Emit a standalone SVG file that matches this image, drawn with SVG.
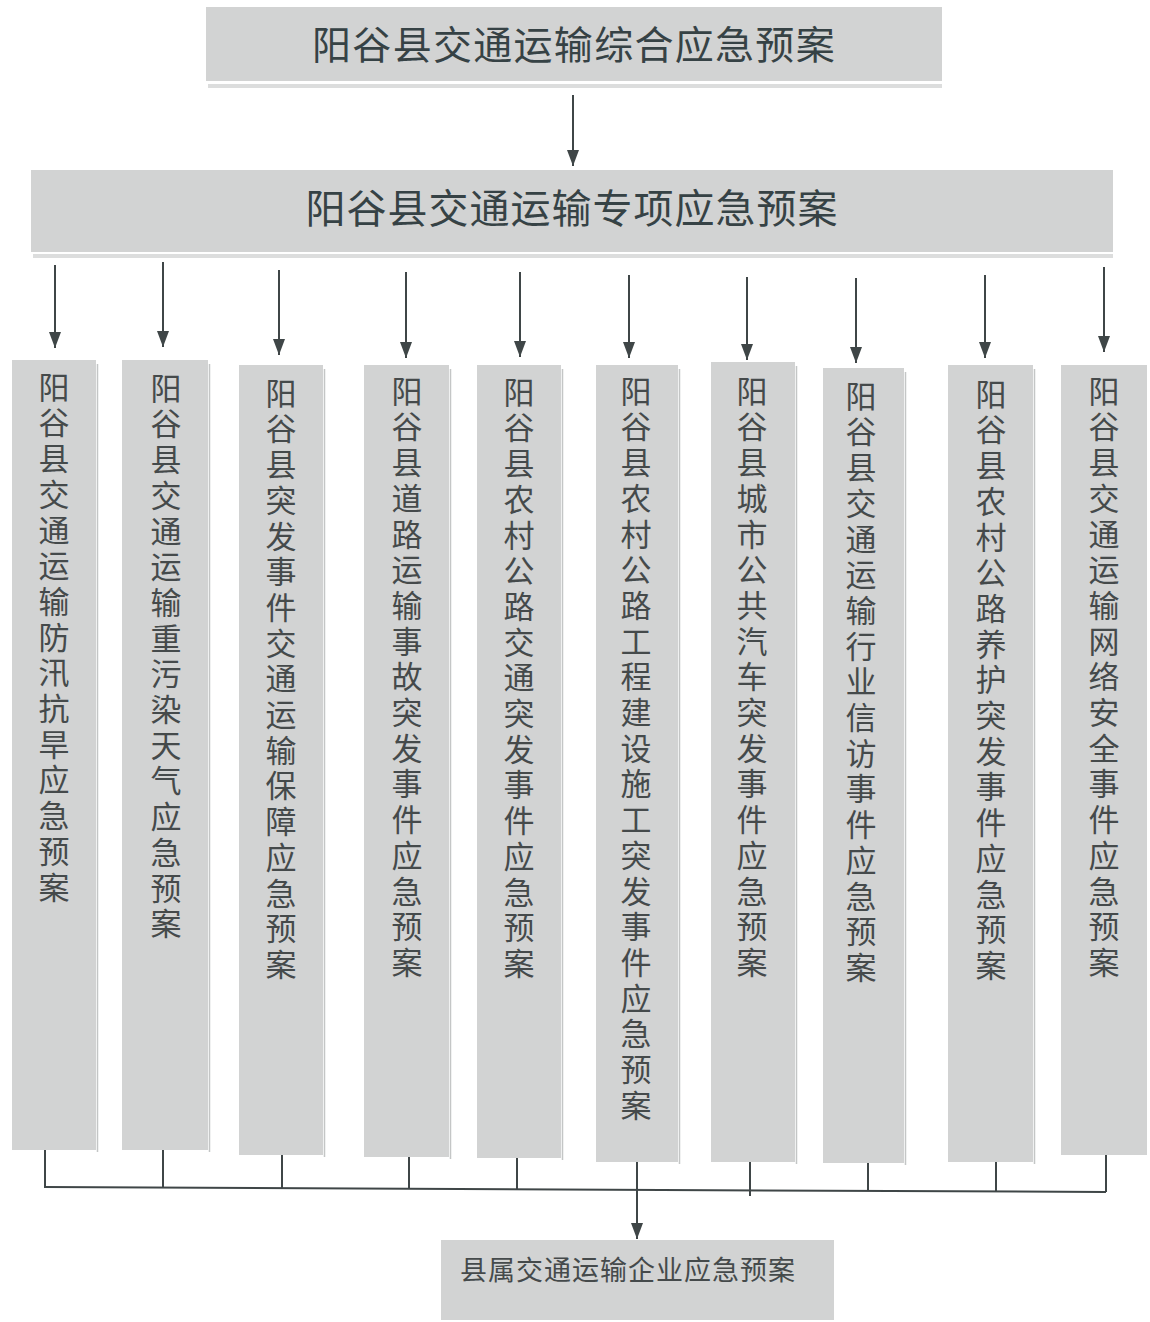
<svg xmlns="http://www.w3.org/2000/svg" width="1150" height="1322" viewBox="0 0 1150 1322">
<defs>
<style>
.box{fill:#d2d3d3;}
.shadow{fill:#dcdddd;}
.edge{stroke:#c4c6c6;stroke-width:1.5;fill:none;}
.title{font-family:"Noto Sans CJK SC","Noto Sans CJK JP",sans-serif;fill:#364245;text-anchor:middle;}
.vt{font-family:"Noto Sans CJK SC","Noto Sans CJK JP",sans-serif;font-size:31px;fill:#454a4b;writing-mode:vertical-rl;text-orientation:upright;letter-spacing:4.7px;}
.conn{stroke:#3f4647;stroke-width:2;fill:none;}
</style>
<marker id="ah2" markerUnits="userSpaceOnUse" markerWidth="16" markerHeight="12" refX="16" refY="6" orient="auto" viewBox="0 0 16 12">
<path d="M0,0 L16,6 L0,12 z" fill="#3f4647"/>
</marker>
</defs>
<rect width="1150" height="1322" fill="#ffffff"/>

<g id="node-general">
<rect class="box" x="206" y="7" width="736" height="74"/>
<rect class="shadow" x="208" y="84" width="734" height="4"/>
<text class="title" x="574" y="59" font-size="39" letter-spacing="1.3">阳谷县交通运输综合应急预案</text>
</g>

<g id="node-special">
<rect class="box" x="31" y="170" width="1082" height="82"/>
<rect class="shadow" x="33" y="254" width="1080" height="4"/>
<text class="title" x="572" y="223" font-size="40" letter-spacing="1">阳谷县交通运输专项应急预案</text>
</g>

<g id="node-c1">
<rect class="box" x="12" y="360" width="84" height="790"/>
<line class="edge" x1="97.5" y1="364" x2="97.5" y2="1152"/>
<text class="vt" x="54" y="371.5">阳谷县交通运输防汛抗旱应急预案</text>
</g>

<g id="node-c2">
<rect class="box" x="122" y="360" width="86" height="790"/>
<line class="edge" x1="209.5" y1="364" x2="209.5" y2="1152"/>
<text class="vt" x="166" y="372.5">阳谷县交通运输重污染天气应急预案</text>
</g>

<g id="node-c3">
<rect class="box" x="239" y="365" width="84" height="790"/>
<line class="edge" x1="324.5" y1="369" x2="324.5" y2="1157"/>
<text class="vt" x="281" y="377.5">阳谷县突发事件交通运输保障应急预案</text>
</g>

<g id="node-c4">
<rect class="box" x="364" y="365" width="85" height="792"/>
<line class="edge" x1="450.5" y1="369" x2="450.5" y2="1159"/>
<text class="vt" x="407" y="375.5">阳谷县道路运输事故突发事件应急预案</text>
</g>

<g id="node-c5">
<rect class="box" x="477" y="365" width="84" height="793"/>
<line class="edge" x1="562.5" y1="369" x2="562.5" y2="1160"/>
<text class="vt" x="519" y="376.5">阳谷县农村公路交通突发事件应急预案</text>
</g>

<g id="node-c6">
<rect class="box" x="596" y="365" width="82" height="797"/>
<line class="edge" x1="679.5" y1="369" x2="679.5" y2="1164"/>
<text class="vt" x="636" y="375.5">阳谷县农村公路工程建设施工突发事件应急预案</text>
</g>

<g id="node-c7">
<rect class="box" x="711" y="362" width="84" height="800"/>
<line class="edge" x1="796.5" y1="366" x2="796.5" y2="1164"/>
<text class="vt" x="752" y="375.5">阳谷县城市公共汽车突发事件应急预案</text>
</g>

<g id="node-c8">
<rect class="box" x="823" y="368" width="81" height="795"/>
<line class="edge" x1="905.5" y1="372" x2="905.5" y2="1165"/>
<text class="vt" x="861" y="380.5">阳谷县交通运输行业信访事件应急预案</text>
</g>

<g id="node-c9">
<rect class="box" x="948" y="365" width="85" height="797"/>
<line class="edge" x1="1034.5" y1="369" x2="1034.5" y2="1164"/>
<text class="vt" x="991" y="378.5">阳谷县农村公路养护突发事件应急预案</text>
</g>

<g id="node-c10">
<rect class="box" x="1061" y="365" width="86" height="790"/>
<text class="vt" x="1104" y="375.5">阳谷县交通运输网络安全事件应急预案</text>
</g>

<g id="node-enterprise">
<rect class="box" x="441" y="1240" width="393" height="80"/>
<text class="title" x="628" y="1280" font-size="27" letter-spacing="1" style="fill:#454a4b">县属交通运输企业应急预案</text>
</g>

<g id="connectors">
<line class="conn" x1="573" y1="95" x2="573" y2="166" marker-end="url(#ah2)"/>
<line class="conn" x1="55" y1="265" x2="55" y2="348" marker-end="url(#ah2)"/>
<line class="conn" x1="163" y1="262" x2="163" y2="347" marker-end="url(#ah2)"/>
<line class="conn" x1="279" y1="270" x2="279" y2="355" marker-end="url(#ah2)"/>
<line class="conn" x1="406" y1="272" x2="406" y2="358" marker-end="url(#ah2)"/>
<line class="conn" x1="520" y1="272" x2="520" y2="357" marker-end="url(#ah2)"/>
<line class="conn" x1="629" y1="275" x2="629" y2="358" marker-end="url(#ah2)"/>
<line class="conn" x1="747" y1="277" x2="747" y2="360" marker-end="url(#ah2)"/>
<line class="conn" x1="856" y1="278" x2="856" y2="363" marker-end="url(#ah2)"/>
<line class="conn" x1="985" y1="275" x2="985" y2="358" marker-end="url(#ah2)"/>
<line class="conn" x1="1104" y1="267" x2="1104" y2="352" marker-end="url(#ah2)"/>

<line class="conn" x1="45" y1="1150" x2="45" y2="1188"/>
<line class="conn" x1="163" y1="1150" x2="163" y2="1188"/>
<line class="conn" x1="282" y1="1155" x2="282" y2="1188"/>
<line class="conn" x1="409" y1="1157" x2="409" y2="1189"/>
<line class="conn" x1="517" y1="1158" x2="517" y2="1189"/>
<line class="conn" x1="750" y1="1162" x2="750" y2="1196"/>
<line class="conn" x1="868" y1="1163" x2="868" y2="1191"/>
<line class="conn" x1="996" y1="1162" x2="996" y2="1192"/>
<line class="conn" x1="1106" y1="1155" x2="1106" y2="1192"/>
<line class="conn" x1="45" y1="1187" x2="1106" y2="1192"/>
<line class="conn" x1="637" y1="1162" x2="637" y2="1239" marker-end="url(#ah2)"/>
</g>
</svg>
